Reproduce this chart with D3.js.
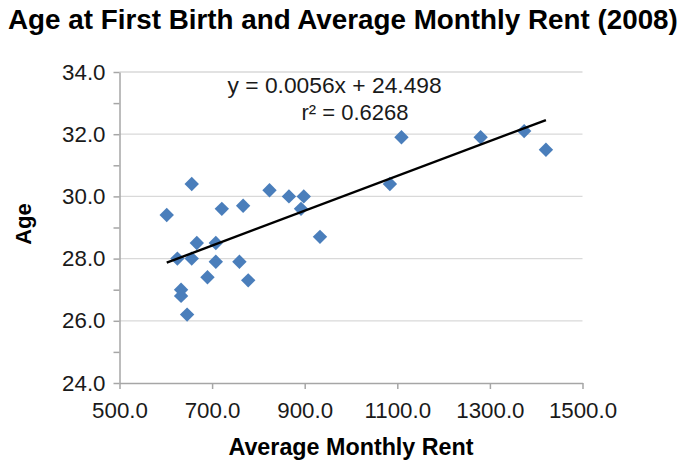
<!DOCTYPE html>
<html>
<head>
<meta charset="utf-8">
<script src="https://cdn.jsdelivr.net/npm/d3@7"></script>
<style>
  html, body { margin: 0; padding: 0; background: #fff; }
  svg { display: block; font-family: "Liberation Sans", Arial, sans-serif; }
</style>
</head>
<body>
<svg id="chart" width="687" height="461"></svg>
<script>
// ---- Data ----
const rent = [602, 656, 721, 767, 824, 866, 898, 892, 933, 667, 708, 625, 656, 708, 759, 690, 778, 633, 633, 646, 1084, 1109, 1280, 1374, 1421];
const age  = [29.4, 30.4, 29.6, 29.7, 30.2, 30.0, 30.0, 29.6, 28.7, 28.5, 28.5, 28.0, 28.0, 27.9, 27.9, 27.4, 27.3, 27.0, 26.8, 26.2, 30.4, 31.9, 31.9, 32.1, 31.5];
const xTicks = [500, 700, 900, 1100, 1300, 1500];
const yTicks = [24, 25, 26, 27, 28, 29, 30, 31, 32, 33, 34];
const yGrid = [26, 28, 30, 32, 34];
const trendSlope = 0.0056;
const trendIntercept = 24.498;
const r2 = 0.6268;

const svg = d3.select("#chart");
const x = d3.scaleLinear().domain([500, 1500]).range([119.5, 582.5]);
const y = d3.scaleLinear().domain([24, 34]).range([383, 72]);

// Title
svg.append("text")
  .attr("x", 8).attr("y", 28.5)
  .attr("font-size", 27.8).attr("font-weight", "bold").attr("fill", "#000")
  .text("Age at First Birth and Average Monthly Rent (2008)");

// Gridlines
svg.append("g").selectAll("line").data(yGrid).join("line")
  .attr("x1", x(500)).attr("x2", x(1500))
  .attr("y1", d => y(d)).attr("y2", d => y(d))
  .attr("stroke", "#d9d9d9").attr("stroke-width", 1.3);

// X axis
const xAxis = svg.append("g").attr("transform", `translate(0,${y(24)})`)
  .call(d3.axisBottom(x).tickValues(xTicks).tickFormat(d3.format(".1f"))
    .tickSize(6).tickSizeOuter(0).tickPadding(13));
xAxis.select(".domain").attr("stroke", "#a6a6a6").attr("stroke-width", 1.5);
xAxis.selectAll(".tick line").attr("stroke", "#a6a6a6").attr("stroke-width", 1.5);
xAxis.selectAll(".tick text").attr("font-size", 22.3).attr("fill", "#1a1a1a")
  .attr("font-family", "Liberation Sans, Arial, sans-serif");

// Y axis
const yAxis = svg.append("g").attr("transform", `translate(${x(500)},0)`)
  .call(d3.axisLeft(y).tickValues(yTicks)
    .tickFormat(d => d % 2 === 0 ? d3.format(".1f")(d) : "")
    .tickSize(6).tickSizeOuter(0).tickPadding(8));
yAxis.select(".domain").attr("stroke", "#a6a6a6").attr("stroke-width", 1.5);
yAxis.selectAll(".tick line").attr("stroke", "#a6a6a6").attr("stroke-width", 1.5);
yAxis.selectAll(".tick text").attr("font-size", 22.3).attr("fill", "#1a1a1a")
  .attr("font-family", "Liberation Sans, Arial, sans-serif");

// Axis titles
svg.append("text")
  .attr("x", (x(500) + x(1500)) / 2).attr("y", 455)
  .attr("text-anchor", "middle").attr("font-size", 23.3).attr("font-weight", "bold")
  .text("Average Monthly Rent");
svg.append("text")
  .attr("transform", `translate(31,224) rotate(-90)`)
  .attr("text-anchor", "middle").attr("font-size", 22).attr("font-weight", "bold")
  .text("Age");

// Points (diamonds)
const pts = rent.map((r, i) => ({ r, a: age[i] }));
const h = 7.2;
svg.append("g").selectAll("path").data(pts).join("path")
  .attr("d", d => {
    const cx = x(d.r), cy = y(d.a);
    return `M${cx},${cy - h}L${cx + h},${cy}L${cx},${cy + h}L${cx - h},${cy}Z`;
  })
  .attr("fill", "#4a7ebb");

// Trendline
const xmin = d3.min(rent), xmax = d3.max(rent);
svg.append("line")
  .attr("x1", x(xmin)).attr("y1", y(trendSlope * xmin + trendIntercept))
  .attr("x2", x(xmax)).attr("y2", y(trendSlope * xmax + trendIntercept))
  .attr("stroke", "#000").attr("stroke-width", 2.4);

// Equation labels
svg.append("text")
  .attr("x", 227.5).attr("y", 93)
  .attr("font-size", 22.8).attr("fill", "#1a1a1a")
  .text(`y = ${trendSlope}x + ${trendIntercept}`);
svg.append("text")
  .attr("x", 301.5).attr("y", 120)
  .attr("font-size", 22).attr("fill", "#1a1a1a")
  .text(`r² = ${r2}`);
</script>
</body>
</html>
